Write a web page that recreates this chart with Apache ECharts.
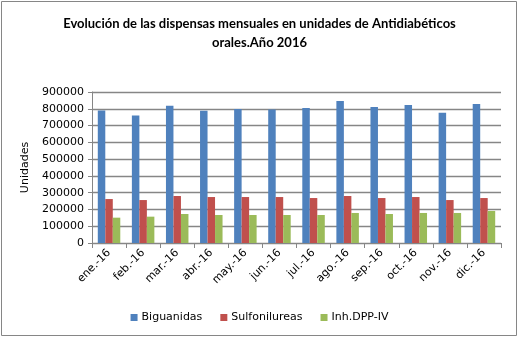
<!DOCTYPE html>
<html><head><meta charset="utf-8">
<script src="https://cdn.jsdelivr.net/npm/echarts@6/dist/echarts.min.js"></script>
<style>html,body{margin:0;padding:0;background:#fff}#c{width:519px;height:338px}</style>
</head><body><div id="c"></div>
<script>
const categories = ['ene.-16','feb.-16','mar.-16','abr.-16','may.-16','jun.-16','jul.-16','ago.-16','sep.-16','oct.-16','nov.-16','dic.-16'];
const biguanidas = [790000,760000,818000,788000,799000,796000,805000,846000,811000,822000,776000,828000];
const sulfonilureas = [262000,256000,280000,274000,274000,274000,268000,280000,268000,274000,256000,268000];
const inhDPPIV = [151000,157000,173000,167000,167000,167000,167000,179000,173000,179000,179000,191000];
const yTicks = [0,100000,200000,300000,400000,500000,600000,700000,800000,900000];

const chart = echarts.init(document.getElementById('c'), null, {renderer:'canvas'});
const font = 'DejaVu Sans';
chart.setOption({
  animation:false,
  backgroundColor:'#fff',
  title:{
    text:'Evolución de las dispensas mensuales en unidades de Antidiabéticos\norales.Año 2016',
    left:'center', top:9,
    textStyle:{fontFamily:'Lato', fontWeight:'bold', fontSize:13, color:'#000', lineHeight:19}
  },
  graphic:[{type:'rect', shape:{x:1.5,y:1.5,width:515,height:334}, style:{fill:null, stroke:'#868686', lineWidth:1}, silent:true}],
  legend:{
    left:'center', itemWidth:7, itemHeight:7, itemGap:18, top:307,
    icon:'rect',
    textStyle:{fontFamily:font, fontSize:11, color:'#000', padding:[0,0,0,-1]},
    data:['Biguanidas','Sulfonilureas','Inh.DPP-IV']
  },
  grid:{left:92, right:18, top:92, bottom:95},
  xAxis:{
    type:'category', data:categories,
    axisLine:{lineStyle:{color:'#868686'}},
    axisTick:{show:true, length:5, lineStyle:{color:'#868686'}},
    axisLabel:{rotate:45, fontFamily:font, fontSize:11, color:'#000', margin:8, interval:0}
  },
  yAxis:{
    type:'value', min:0, max:900000, interval:100000,
    name:'Unidades', nameLocation:'middle', nameGap:53, nameRotate:90,
    nameTextStyle:{fontFamily:font, fontSize:11, color:'#000'},
    axisLine:{show:true, lineStyle:{color:'#868686'}},
    axisTick:{show:true, length:4, lineStyle:{color:'#868686'}},
    axisLabel:{fontFamily:font, fontSize:11, color:'#000', margin:8,
      formatter:v=> yTicks.includes(v) ? String(v) : ''},
    splitLine:{lineStyle:{color:'#868686', width:1.3}}
  },
  series:[
    {name:'Biguanidas', type:'bar', data:biguanidas, itemStyle:{color:'#4F81BD'}, barGap:'0%', barCategoryGap:'34%'},
    {name:'Sulfonilureas', type:'bar', data:sulfonilureas, itemStyle:{color:'#C0504D'}},
    {name:'Inh.DPP-IV', type:'bar', data:inhDPPIV, itemStyle:{color:'#9BBB59'}}
  ]
});
</script></body></html>
